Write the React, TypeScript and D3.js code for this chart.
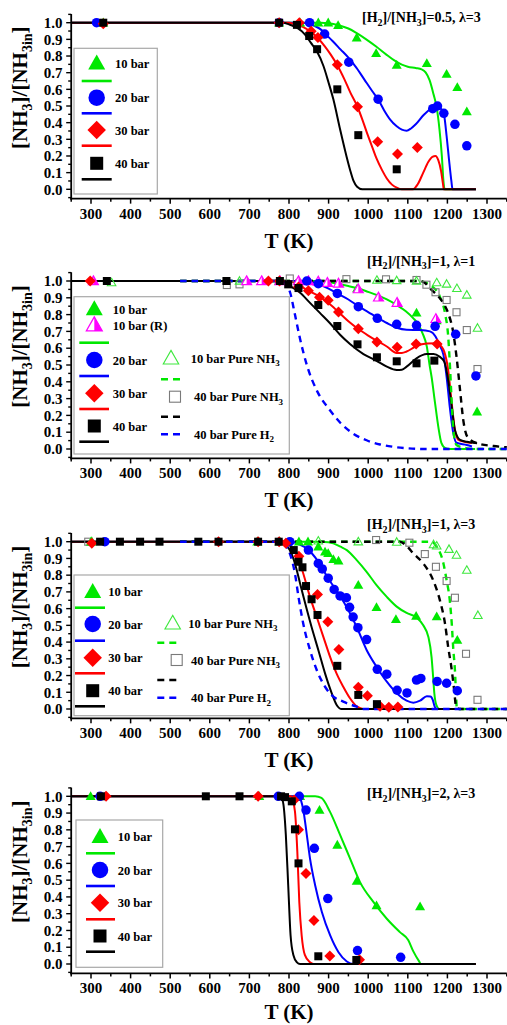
import * as d3 from "d3";
import { useRef, useEffect } from "react";

// ---- panel 1 : [H2]/[NH3]=0.5, lambda=3 ----
const p1Pts10 = [[331, 1], [775, 1], [828, 1], [874, 1], [899, 1], [924, 0.984], [971, 0.91], [1020, 0.816], [1072, 0.746], [1148, 0.756], [1198, 0.692], [1225, 0.612], [1249, 0.466]];
const p1Pts20 = [[314, 1], [775, 1], [852, 1], [890, 0.932], [951, 0.763], [1025, 0.541], [1163, 0.484], [1175, 0.5], [1191, 0.456], [1219, 0.39], [1249, 0.261]];
const p1Pts30 = [[331, 0.993], [775, 1], [826, 1], [856, 0.949], [873, 0.911], [922, 0.748], [973, 0.496], [1024, 0.286], [1074, 0.212], [1124, 0.251]];
const p1Pts40 = [[331, 1], [775, 1], [820, 0.987], [851, 0.92], [871, 0.841], [922, 0.6], [975, 0.325], [1072, 0.12]];
const p1Fit10 = [[250, 1], [880, 1], [900, 0.997], [925, 0.985], [950, 0.965], [971, 0.937], [995, 0.9], [1020, 0.857], [1045, 0.81], [1065, 0.775], [1085, 0.748], [1100, 0.736], [1120, 0.728], [1135, 0.72], [1145, 0.702], [1155, 0.655], [1165, 0.57], [1173, 0.49], [1180, 0.36], [1186, 0.2], [1190, 0.05], [1193, 0], [1272, 0]];
const p1Fit20 = [[250, 1], [835, 1], [850, 0.995], [865, 0.98], [880, 0.96], [895, 0.925], [910, 0.89], [930, 0.84], [950, 0.79], [970, 0.73], [990, 0.66], [1010, 0.59], [1025, 0.54], [1040, 0.475], [1055, 0.42], [1072, 0.378], [1085, 0.358], [1097, 0.352], [1108, 0.365], [1120, 0.39], [1140, 0.446], [1160, 0.486], [1175, 0.497], [1185, 0.48], [1192, 0.44], [1198, 0.32], [1204, 0.18], [1210, 0.05], [1213, 0], [1272, 0]];
const p1Fit30 = [[250, 1], [800, 1], [815, 0.99], [835, 0.975], [855, 0.945], [872, 0.91], [890, 0.86], [905, 0.81], [922, 0.745], [940, 0.66], [955, 0.58], [972, 0.5], [985, 0.42], [996, 0.345], [1010, 0.255], [1021, 0.185], [1035, 0.115], [1047, 0.065], [1060, 0.028], [1075, 0.007], [1085, 0], [1113, 0], [1125, 0.03], [1139, 0.1], [1152, 0.165], [1162, 0.195], [1170, 0.2], [1177, 0.175], [1184, 0.11], [1189, 0.03], [1191, 0], [1272, 0]];
const p1Fit40 = [[250, 1], [785, 1], [800, 0.99], [820, 0.97], [840, 0.93], [855, 0.88], [870, 0.83], [887, 0.74], [900, 0.64], [912, 0.54], [929, 0.36], [945, 0.2], [955, 0.11], [963, 0.05], [972, 0.015], [985, 0], [1272, 0]];

// ---- panel 2 : [H2]/[NH3]=1, lambda=1 ----
const p2Pts10 = [[775, 1], [972, 0.955], [1122, 0.81], [1173, 0.765], [1275, 0.222]];
const p2Pts10R = [[306, 1], [693, 1], [731, 1], [777, 1], [824, 1], [849, 1], [874, 0.998], [897, 0.99], [925, 0.986], [975, 0.952], [1026, 0.903], [1073, 0.871], [1171, 0.775]];
const p2Pts20 = [[845, 1], [874, 0.984], [922, 0.926], [975, 0.847], [1023, 0.778], [1072, 0.742], [1122, 0.736], [1169, 0.73], [1221, 0.683], [1272, 0.435]];
const p2Pts30 = [[298, 1], [748, 1], [776, 1], [824, 0.965], [849, 0.942], [877, 0.903], [899, 0.886], [925, 0.815], [975, 0.716], [1022, 0.637], [1073, 0.605], [1121, 0.625], [1174, 0.625]];
const p2Pts40 = [[340, 1], [642, 1], [777, 1], [798, 0.98], [824, 0.958], [874, 0.857], [922, 0.732], [973, 0.623], [1022, 0.546], [1072, 0.522], [1122, 0.51], [1167, 0.526]];
const p2PtsPure10 = [[352, 0.99], [675, 1], [777, 1], [1022, 1.005], [1072, 1.003], [1122, 1.0], [1173, 0.99], [1198, 0.982], [1224, 0.956], [1249, 0.917], [1276, 0.72]];
const p2PtsPure40 = [[643, 0.976], [675, 0.98], [802, 1.015], [945, 1.011], [1045, 1.01], [1122, 1.006], [1147, 0.978], [1170, 0.933], [1198, 0.887], [1223, 0.814], [1249, 0.708], [1276, 0.476]];
const p2Fit10 = [[250, 1], [880, 1], [920, 0.985], [950, 0.97], [975, 0.955], [1000, 0.935], [1021, 0.917], [1047, 0.89], [1072, 0.857], [1095, 0.82], [1114, 0.778], [1127, 0.74], [1137, 0.69], [1148, 0.61], [1155, 0.5], [1160, 0.43], [1169, 0.27], [1177, 0.133], [1185, 0.035], [1195, 0.005], [1205, 0], [1270, 0]];
const p2Fit20 = [[250, 1], [845, 1], [874, 0.982], [900, 0.955], [922, 0.926], [950, 0.89], [975, 0.85], [1000, 0.815], [1021, 0.785], [1047, 0.75], [1072, 0.722], [1097, 0.71], [1131, 0.708], [1156, 0.7], [1170, 0.67], [1180, 0.62], [1190, 0.56], [1198, 0.43], [1206, 0.25], [1215, 0.093], [1223, 0.037], [1249, 0.024], [1262, 0.015]];
const p2Fit30 = [[250, 1], [800, 1], [825, 0.975], [849, 0.942], [875, 0.91], [899, 0.87], [925, 0.815], [950, 0.76], [975, 0.714], [1000, 0.675], [1021, 0.645], [1047, 0.61], [1072, 0.572], [1085, 0.572], [1097, 0.58], [1122, 0.613], [1148, 0.628], [1173, 0.63], [1185, 0.61], [1192, 0.58], [1202, 0.47], [1211, 0.27], [1219, 0.113], [1228, 0.054], [1245, 0.042], [1262, 0.035]];
const p2Fit40 = [[250, 1], [777, 1], [802, 0.97], [828, 0.93], [853, 0.87], [878, 0.81], [903, 0.75], [929, 0.68], [954, 0.625], [988, 0.565], [1021, 0.525], [1047, 0.49], [1072, 0.47], [1085, 0.472], [1097, 0.49], [1122, 0.54], [1148, 0.565], [1165, 0.566], [1180, 0.55], [1192, 0.52], [1202, 0.41], [1211, 0.25], [1219, 0.113], [1232, 0.054], [1249, 0.043], [1275, 0.034]];
const p2FitPure10 = [[525, 1], [1125, 1], [1145, 0.99], [1160, 0.97], [1181, 0.907], [1194, 0.808], [1202, 0.67], [1207, 0.47], [1211, 0.272], [1215, 0.113], [1223, 0.024], [1249, 0.004], [1270, 0], [1350, 0]];
const p2FitPure40 = [[525, 1], [1131, 1], [1145, 0.985], [1156, 0.956], [1170, 0.925], [1181, 0.897], [1192, 0.86], [1202, 0.808], [1215, 0.69], [1223, 0.55], [1232, 0.35], [1240, 0.173], [1253, 0.064], [1282, 0.03], [1316, 0.018], [1350, 0.01]];
const p2FitH2 = [[525, 1], [785, 1], [795, 0.975], [803, 0.93], [815, 0.8], [828, 0.655], [845, 0.5], [872, 0.34], [903, 0.232], [930, 0.155], [960, 0.095], [996, 0.052], [1030, 0.027], [1063, 0.013], [1100, 0.004], [1140, 0], [1350, 0]];

// ---- panel 3 : [H2]/[NH3]=1, lambda=3 ----
const p3Pts10 = [[300, 1], [720, 1], [825, 1], [848, 1], [874, 0.97], [891, 0.94], [899, 0.93], [912, 0.895], [925, 0.886], [975, 0.741], [1021, 0.608], [1070, 0.536], [1121, 0.555], [1173, 0.552], [1225, 0.412]];
const p3Pts20 = [[335, 1], [802, 1], [849, 0.95], [874, 0.87], [884, 0.837], [899, 0.782], [914, 0.715], [929, 0.676], [945, 0.665], [953, 0.608], [962, 0.55], [974, 0.486], [996, 0.415], [1023, 0.237], [1047, 0.208], [1073, 0.112], [1098, 0.096], [1122, 0.173], [1133, 0.183], [1174, 0.165], [1198, 0.154], [1225, 0.109]];
const p3Pts30 = [[302, 0.99], [622, 1], [722, 1], [775, 1], [792, 0.99], [825, 0.913], [872, 0.685], [898, 0.522], [926, 0.355], [975, 0.13], [998, 0.079], [1030, 0.016], [1052, 0.01], [1075, 0.012]];
const p3Pts40 = [[323, 1], [373, 1], [424, 1], [473, 1], [571, 1], [622, 1], [722, 1], [774, 1], [812, 0.95], [824, 0.88], [834, 0.847], [843, 0.735], [857, 0.656], [872, 0.562], [922, 0.258], [975, 0.084], [1022, 0.029]];
const p3PtsPure10 = [[302, 1], [776, 1], [874, 1.005], [975, 1.0], [1072, 0.998], [1165, 0.983], [1173, 0.975], [1204, 0.955], [1223, 0.92], [1249, 0.83], [1277, 0.56]];
const p3PtsPure40 = [[293, 1], [1020, 1.01], [1104, 0.994], [1143, 0.926], [1171, 0.85], [1198, 0.765], [1219, 0.665], [1247, 0.33], [1276, 0.055]];
const p3Fit10 = [[250, 1], [880, 1], [900, 0.997], [912, 0.99], [930, 0.97], [946, 0.95], [971, 0.89], [996, 0.82], [1021, 0.74], [1047, 0.67], [1072, 0.612], [1097, 0.574], [1122, 0.547], [1139, 0.5], [1152, 0.43], [1160, 0.31], [1164, 0.19], [1167, 0.094], [1172, 0.025], [1180, 0], [1265, 0]];
const p3Fit20 = [[250, 1], [805, 1], [825, 0.985], [845, 0.96], [874, 0.88], [899, 0.78], [925, 0.69], [950, 0.59], [971, 0.49], [996, 0.353], [1021, 0.253], [1047, 0.163], [1072, 0.094], [1097, 0.05], [1114, 0.038], [1131, 0.05], [1148, 0.076], [1157, 0.075], [1163, 0.055], [1168, 0.014], [1172, 0], [1265, 0]];
const p3Fit30 = [[250, 1], [790, 1], [805, 0.97], [820, 0.92], [836, 0.81], [853, 0.67], [870, 0.55], [887, 0.43], [904, 0.31], [920, 0.213], [937, 0.133], [954, 0.064], [972, 0.014], [988, 0], [1265, 0]];
const p3Fit40 = [[250, 1], [780, 1], [790, 0.985], [802, 0.95], [815, 0.87], [828, 0.75], [841, 0.63], [857, 0.49], [874, 0.353], [891, 0.213], [908, 0.094], [920, 0.026], [933, 0], [1265, 0]];
const p3FitPure10 = [[525, 1], [1160, 1], [1173, 0.97], [1190, 0.87], [1198, 0.77], [1206, 0.65], [1211, 0.51], [1215, 0.353], [1219, 0.233], [1222, 0.074], [1224, 0], [1350, 0]];
const p3FitPure40 = [[525, 1], [1080, 1], [1097, 0.975], [1114, 0.93], [1139, 0.87], [1164, 0.77], [1181, 0.65], [1194, 0.51], [1202, 0.37], [1211, 0.233], [1217, 0.114], [1222, 0.014], [1230, 0], [1350, 0]];
const p3FitH2 = [[525, 1], [775, 1], [790, 0.98], [802, 0.93], [815, 0.81], [824, 0.67], [836, 0.51], [853, 0.353], [870, 0.233], [891, 0.133], [912, 0.074], [937, 0.044], [971, 0.014], [990, 0], [1350, 0]];

// ---- panel 4 : [H2]/[NH3]=2, lambda=3 ----
const p4Pts10 = [[299, 1], [725, 1], [828, 1], [877, 0.918], [922, 0.71], [971, 0.495], [1021, 0.348], [1131, 0.342]];
const p4Pts20 = [[323, 1], [773, 1], [826, 1], [843, 0.918], [864, 0.69], [898, 0.39], [973, 0.08], [1082, 0.04]];
const p4Pts30 = [[338, 1], [722, 1], [813, 0.978], [824, 0.8], [843, 0.54], [863, 0.26], [903, 0.048], [978, 0.026]];
const p4Pts40 = [[325, 1], [590, 1], [675, 1], [780, 1], [790, 0.995], [807, 0.97], [815, 0.803], [824, 0.6], [874, 0.046], [970, 0.024]];
const p4Fit10 = [[250, 1], [866, 1], [882, 0.99], [903, 0.91], [929, 0.77], [954, 0.63], [979, 0.49], [1013, 0.37], [1047, 0.27], [1080, 0.19], [1101, 0.143], [1114, 0.075], [1129, 0.014], [1133, 0], [1272, 0]];
const p4Fit20 = [[250, 1], [824, 1], [831, 0.97], [836, 0.92], [845, 0.77], [853, 0.63], [866, 0.47], [883, 0.31], [904, 0.17], [925, 0.07], [946, 0.015], [962, 0], [1272, 0]];
const p4Fit30 = [[250, 1], [805, 1], [815, 0.91], [821, 0.67], [826, 0.37], [832, 0.17], [840, 0.054], [853, 0.01], [862, 0], [1272, 0]];
const p4Fit40 = [[250, 1], [780, 1], [786, 0.95], [792, 0.77], [798, 0.47], [804, 0.17], [811, 0.054], [820, 0.01], [828, 0], [1272, 0]];

const xTicks = [300, 400, 500, 600, 700, 800, 900, 1000, 1100, 1200, 1300];
const yTicks = [0, 0.1, 0.2, 0.3, 0.4, 0.5, 0.6, 0.7, 0.8, 0.9, 1.0];

const GREEN = "#00e800";
const LIGHTGREEN = "#3ee83e";
const BLUE = "#0000ff";
const RED = "#ff0000";
const MAGENTA = "#ff00ff";
const GRAY = "#7a7a7a";
const FONT = "'Liberation Serif', 'Times New Roman', serif";

const x = d3.scaleLinear().domain([250, 1350]).range([71.2, 506.8]);

const panels = [
  {
    yOne: 22.7, yZero: 189.3, note: "0.5, \u03bb=3", noteX: 362, noteY: 22, titleDy: 49.5,
    fits: [[p1Fit10, GREEN], [p1Fit20, BLUE], [p1Fit30, RED], [p1Fit40, "#000"]],
    dashed: [],
    pts: [[p1Pts10, "tri", GREEN], [p1Pts20, "circle", BLUE], [p1Pts30, "diamond", RED], [p1Pts40, "square", "#000"]],
    legend: {
      box: [74, 48.3, 83.3, 145.7], mx: 96.7, lx: [81.7, 111.7], tx: 115,
      rows: [["tri", GREEN, 63.3, "10 bar"], ["line", GREEN, 81], ["circle", BLUE, 97.7, "20 bar"], ["line", BLUE, 113.3],
        ["diamond", RED, 130, "30 bar"], ["line", RED, 145.7], ["square", "#000", 163.3, "40 bar"], ["line", "#000", 179.3]],
      right: null,
    },
  },
  {
    yOne: 281, yZero: 449, note: "1, \u03bb=1", noteX: 367, noteY: 265.5, titleDy: 49,
    fits: [[p2Fit10, GREEN], [p2Fit20, BLUE], [p2Fit30, RED], [p2Fit40, "#000"]],
    dashed: [[p2FitPure10, GREEN], [p2FitPure40, "#000"], [p2FitH2, BLUE]],
    pts: [[p2PtsPure40, "osquare", GRAY], [p2PtsPure10, "otri", LIGHTGREEN], [p2Pts10, "tri", GREEN], [p2Pts10R, "halftri", MAGENTA],
      [p2Pts20, "circle", BLUE], [p2Pts30, "diamond", RED], [p2Pts40, "square", "#000"]],
    legend: {
      box: [74, 296.7, 215.3, 157.3], mx: 94.3, lx: [79.3, 109], tx: 112.7,
      rows: [["tri", GREEN, 309, "10 bar"], ["halftri", MAGENTA, 325, "10 bar (R)"], ["line", GREEN, 342.7], ["circle", BLUE, 360, "20 bar"],
        ["line", BLUE, 376], ["diamond", RED, 393.3, "30 bar"], ["line", RED, 409], ["square", "#000", 426, "40 bar"], ["line", "#000", 441.7]],
      right: { mx: 171, lx: [161, 180.7], rows: [["otri", LIGHTGREEN, 358.3, "10 bar Pure NH", 190.7], ["dash", GREEN, 379.3],
        ["osquare", GRAY, 396.7, "40 bar Pure NH", 194], ["dash", "#000", 416.7], ["dash", BLUE, 434.3, "40 bar Pure H", 194]] },
    },
  },
  {
    yOne: 541.7, yZero: 709, note: "1, \u03bb=3", noteX: 367, noteY: 529, titleDy: 49,
    fits: [[p3Fit10, GREEN], [p3Fit20, BLUE], [p3Fit30, RED], [p3Fit40, "#000"]],
    dashed: [[p3FitPure10, GREEN], [p3FitPure40, "#000"], [p3FitH2, BLUE]],
    pts: [[p3PtsPure40, "osquare", GRAY], [p3PtsPure10, "otri", LIGHTGREEN], [p3Pts10, "tri", GREEN],
      [p3Pts20, "circle", BLUE], [p3Pts30, "diamond", RED], [p3Pts40, "square", "#000"]],
    legend: {
      box: [74, 575, 215.3, 140.7], mx: 92.7, lx: [75, 105], tx: 108.3,
      rows: [["tri", GREEN, 591.7, "10 bar"], ["line", GREEN, 607.7], ["circle", BLUE, 624, "20 bar"], ["line", BLUE, 640.7],
        ["diamond", RED, 657.7, "30 bar"], ["line", RED, 673.3], ["square", "#000", 690.7, "40 bar"], ["line", "#000", 706.3]],
      right: { mx: 172.7, lx: [157.3, 178.3], rows: [["otri", LIGHTGREEN, 623.3, "10 bar Pure NH", 188.3], ["dash", GREEN, 642.7],
        ["osquare", GRAY, 660, "40 bar Pure NH", 191], ["dash", "#000", 680], ["dash", BLUE, 697.7, "40 bar Pure H", 191]] },
    },
  },
  {
    yOne: 796.3, yZero: 964, note: "2, \u03bb=3", noteX: 367, noteY: 798, titleDy: 45.5,
    fits: [[p4Fit10, GREEN], [p4Fit20, BLUE], [p4Fit30, RED], [p4Fit40, "#000"]],
    dashed: [],
    pts: [[p4Pts10, "tri", GREEN], [p4Pts20, "circle", BLUE], [p4Pts30, "diamond", RED], [p4Pts40, "square", "#000"]],
    legend: {
      box: [76, 820, 86.7, 147.3], mx: 100, lx: [86, 115], tx: 117.7,
      rows: [["tri", GREEN, 836.7, "10 bar"], ["line", GREEN, 853.3], ["circle", BLUE, 870, "20 bar"], ["line", BLUE, 886],
        ["diamond", RED, 902.7, "30 bar"], ["line", RED, 919.3], ["square", "#000", 936, "40 bar"], ["line", "#000", 951.7]],
      right: null,
    },
  },
];

const dataSize: any = { tri: 10, halftri: 10, circle: 9.5, diamond: 11, square: 8, otri: 8.5, osquare: 7 };
const legendSize: any = { tri: 17, halftri: 16, circle: 16.5, diamond: 18.5, square: 13, otri: 15.5, osquare: 11 };

function triPts(cx: number, cy: number, w: number) {
  const h = w * 0.88;
  return [[cx, cy - h * 0.58], [cx + w / 2, cy + h * 0.42], [cx - w / 2, cy + h * 0.42]];
}

function marker(g: any, kind: string, cx: number, cy: number, s: number, color: string) {
  if (kind === "circle") {
    g.append("circle").attr("cx", cx).attr("cy", cy).attr("r", s / 2).attr("fill", color);
  } else if (kind === "tri" || kind === "otri") {
    const p = triPts(cx, cy, s);
    const path = g.append("path").attr("d", "M" + p.join("L") + "Z");
    if (kind === "tri") path.attr("fill", color);
    else path.attr("fill", "none").attr("stroke", color).attr("stroke-width", 1.1);
  } else if (kind === "halftri") {
    const p = triPts(cx, cy, s);
    g.append("path").attr("d", "M" + p.join("L") + "Z").attr("fill", "#fff").attr("stroke", color).attr("stroke-width", 1.2);
    g.append("path").attr("d", `M${p[0]}L${p[1]}L${cx},${p[1][1]}Z`).attr("fill", color);
  } else if (kind === "diamond") {
    const r = s / 2;
    g.append("path").attr("d", `M${cx},${cy - r}L${cx + r},${cy}L${cx},${cy + r}L${cx - r},${cy}Z`).attr("fill", color);
  } else if (kind === "square") {
    g.append("rect").attr("x", cx - s / 2).attr("y", cy - s / 2).attr("width", s).attr("height", s).attr("fill", color);
  } else if (kind === "osquare") {
    g.append("rect").attr("x", cx - s / 2).attr("y", cy - s / 2).attr("width", s).attr("height", s)
      .attr("fill", "none").attr("stroke", color).attr("stroke-width", 1.1);
  }
}

function subText(g: any, tx: number, ty: number, parts: [string, boolean][], size: number, subSize: number, shift: number) {
  const t = g.append("text").attr("x", tx).attr("y", ty).attr("font-family", FONT).attr("font-weight", "bold")
    .attr("font-size", size).attr("fill", "#000");
  let down = false;
  parts.forEach(([s, sub]) => {
    const sp = t.append("tspan").text(s);
    if (sub && !down) { sp.attr("dy", shift).attr("font-size", subSize); down = true; }
    else if (sub) sp.attr("font-size", subSize);
    else if (down) { sp.attr("dy", -shift); down = false; }
  });
  return t;
}

function drawPanel(svg: any, p: any) {
  const y = d3.scaleLinear().domain([0, 1]).range([p.yZero, p.yOne]);
  const yTop = y(1.052), yBot = y(-0.056);
  const g = svg.append("g");
  const line = d3.line<number[]>().x(d => x(d[0])).y(d => y(d[1])).curve(d3.curveMonotoneX);

  p.fits.forEach(([data, color]: any) => {
    g.append("path").attr("d", line(data)).attr("fill", "none").attr("stroke", color).attr("stroke-width", 2);
  });
  p.dashed.forEach(([data, color]: any) => {
    g.append("path").attr("d", line(data)).attr("fill", "none").attr("stroke", color)
      .attr("stroke-width", 2.4).attr("stroke-dasharray", "6.5,5");
  });
  p.pts.forEach(([data, kind, color]: any) => {
    data.forEach((d: number[]) => marker(g, kind, x(d[0]), y(d[1]), dataSize[kind], color));
  });

  // axes
  const ax = g.append("g");
  ax.append("line").attr("x1", x(250)).attr("x2", x(250)).attr("y1", yTop).attr("y2", yBot + 1)
    .attr("stroke", "#000").attr("stroke-width", 1.8);
  ax.append("line").attr("x1", x(250) - 0.9).attr("x2", x(1350)).attr("y1", yBot).attr("y2", yBot)
    .attr("stroke", "#000").attr("stroke-width", 1.8);
  d3.range(250, 1351, 50).forEach(t => {
    const major = t % 100 === 0;
    ax.append("line").attr("x1", x(t)).attr("x2", x(t)).attr("y1", yBot).attr("y2", yBot + (major ? 5 : 3))
      .attr("stroke", "#000").attr("stroke-width", 1.5);
  });
  d3.range(-0.05, 1.06, 0.05).forEach(v => {
    const major = Math.abs(Math.round(v * 10) - v * 10) < 0.01;
    ax.append("line").attr("x1", x(250)).attr("x2", x(250) - (major ? 5 : 3)).attr("y1", y(v)).attr("y2", y(v))
      .attr("stroke", "#000").attr("stroke-width", 1.4);
  });
  xTicks.forEach(t => {
    ax.append("text").attr("x", x(t)).attr("y", yBot + 20).attr("text-anchor", "middle")
      .attr("font-family", FONT).attr("font-weight", "bold").attr("font-size", 15).text(String(t));
  });
  yTicks.forEach(v => {
    ax.append("text").attr("x", 62.5).attr("y", y(v)).attr("dy", "0.35em").attr("text-anchor", "end")
      .attr("font-family", FONT).attr("font-weight", "bold").attr("font-size", 15).text(d3.format(".1f")(v));
  });

  // axis titles
  ax.append("text").attr("x", 289).attr("y", yBot + p.titleDy).attr("text-anchor", "middle")
    .attr("font-family", FONT).attr("font-weight", "bold").attr("font-size", 21).text("T (K)");
  const yt = subText(ax, 0, 0, [["[NH", false], ["3", true], ["]/[NH", false], ["3in", true], ["]", false]], 21, 14, 5);
  yt.attr("text-anchor", "middle").attr("transform", `translate(27,${y(0.61)}) rotate(-90)`);

  // annotation
  subText(ax, p.noteX, p.noteY, [["[H", false], ["2", true], ["]/[NH", false], ["3", true], ["]=" + p.note, false]], 14, 10, 3.5);

  // legend
  const L = p.legend;
  const lg = g.append("g");
  lg.append("rect").attr("x", L.box[0]).attr("y", L.box[1]).attr("width", L.box[2]).attr("height", L.box[3])
    .attr("fill", "#fff").attr("stroke", "#a8a8a8").attr("stroke-width", 1.2);
  L.rows.forEach((r: any) => {
    if (r[0] === "line") {
      lg.append("line").attr("x1", L.lx[0]).attr("x2", L.lx[1]).attr("y1", r[2]).attr("y2", r[2])
        .attr("stroke", r[1]).attr("stroke-width", 2.6);
    } else {
      marker(lg, r[0], L.mx, r[2], legendSize[r[0]], r[1]);
      subText(lg, L.tx, r[2] + 4.5, [[r[3], false]], 12.5, 9, 3);
    }
  });
  if (L.right) {
    const R = L.right;
    R.rows.forEach((r: any) => {
      if (r[0] === "dash") {
        lg.append("line").attr("x1", R.lx[0]).attr("x2", R.lx[1]).attr("y1", r[2]).attr("y2", r[2])
          .attr("stroke", r[1]).attr("stroke-width", 2.6).attr("stroke-dasharray", "7,5");
      } else {
        const mx = r[0] === "osquare" ? R.mx + 4 : R.mx;
        marker(lg, r[0], mx, r[2], legendSize[r[0]], r[1]);
      }
      if (r[3]) subText(lg, r[4], r[2] + 4.5, [[r[3], false], [r[3].endsWith("H") && r[0] === "dash" ? "2" : "3", true]], 12.5, 9, 3.5);
    });
  }
}

export default function App() {
  const ref = useRef<SVGSVGElement>(null);

  useEffect(() => {
    const svg = d3.select(ref.current);
    svg.selectAll("*").remove();
    panels.forEach(p => drawPanel(svg, p));
  }, []);

  return (
    <div style={{ position: "absolute", left: 0, top: 0, background: "#fff" }}>
      <svg ref={ref} width={507} height={1025}></svg>
    </div>
  );
}
